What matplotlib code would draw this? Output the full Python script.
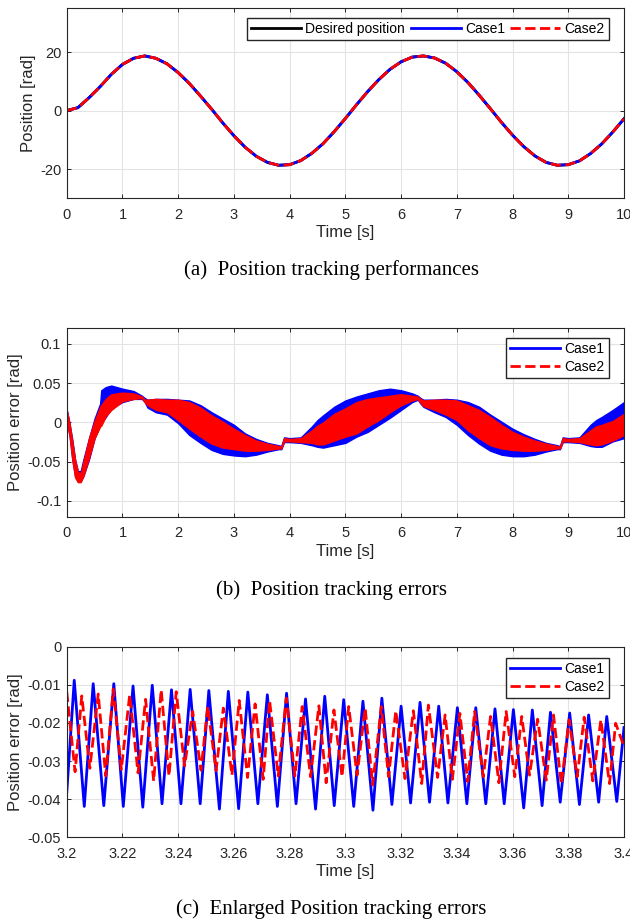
import numpy as np
import matplotlib.pyplot as plt
from matplotlib.lines import Line2D
from matplotlib.ticker import FormatStrFormatter

plt.rcParams['font.family'] = ['Liberation Sans', 'DejaVu Sans']
plt.rcParams['axes.unicode_minus'] = False

# (a) position tracking, read every 0.2 s
pos_t = [0.0, 0.2, 0.4, 0.6, 0.8, 1.0, 1.2, 1.4, 1.6, 1.8, 2.0, 2.2, 2.4, 2.6, 2.8,
         3.0, 3.2, 3.4, 3.6, 3.8, 4.0, 4.2, 4.4, 4.6, 4.8, 5.0, 5.2, 5.4, 5.6, 5.8,
         6.0, 6.2, 6.4, 6.6, 6.8, 7.0, 7.2, 7.4, 7.6, 7.8, 8.0, 8.2, 8.4, 8.6, 8.8,
         9.0, 9.2, 9.4, 9.6, 9.8, 10.0]
pos_desired = [0.0, 1.0, 4.4, 8.2, 12.4, 15.8, 17.9, 18.7, 17.9, 16.0, 13.0, 9.3, 5.0, 0.5, -4.2,
               -8.6, -12.5, -15.6, -17.7, -18.7, -18.5, -17.1, -14.6, -11.3, -7.2, -2.7, 2.0, 6.5, 10.6, 14.1,
               16.7, 18.3, 18.7, 18.0, 16.2, 13.3, 9.6, 5.3, 0.7, -4.0, -8.4, -12.3, -15.5, -17.7, -18.7,
               -18.5, -17.2, -14.7, -11.4, -7.3, -2.8]

# (b) tracking error envelopes (upper / lower edge of the oscillation band)
err_t = [0.0, 0.05, 0.1, 0.15, 0.2, 0.25, 0.3, 0.4, 0.5, 0.6, 0.62, 0.7, 0.8, 1.0, 1.2, 1.35,
         1.4, 1.45, 1.6, 1.8, 2.0, 2.2, 2.4, 2.6, 2.8, 3.0, 3.2, 3.4, 3.6, 3.8, 3.85, 3.9,
         4.0, 4.2, 4.4, 4.5, 4.6, 4.8, 5.0, 5.2, 5.4, 5.6, 5.8, 6.0, 6.2, 6.3, 6.35, 6.4,
         6.6, 6.8, 7.0, 7.2, 7.4, 7.6, 7.8, 8.0, 8.2, 8.4, 8.6, 8.8, 8.85, 8.9, 9.0, 9.2,
         9.4, 9.5, 9.6, 9.8, 10.0]
case1_hi = [0.016, -0.001, -0.022, -0.047, -0.062, -0.062, -0.047, -0.020, 0.005, 0.024, 0.041, 0.045,
            0.047, 0.043, 0.040, 0.034, 0.031, 0.029, 0.030, 0.030, 0.029, 0.028, 0.022, 0.013,
            0.005, -0.003, -0.014, -0.021, -0.026, -0.029, -0.030, -0.019, -0.020, -0.019, -0.005,
            0.003, 0.009, 0.020, 0.028, 0.033, 0.037, 0.041, 0.043, 0.041, 0.037, 0.034, 0.031,
            0.029, 0.029, 0.030, 0.029, 0.026, 0.020, 0.010, 0.001, -0.008, -0.015, -0.021, -0.026,
            -0.029, -0.030, -0.019, -0.020, -0.019, -0.003, 0.003, 0.007, 0.016, 0.026]
case1_lo = [0.0, -0.016, -0.047, -0.068, -0.075, -0.075, -0.068, -0.047, -0.020, -0.003, -0.001, 0.007,
            0.018, 0.026, 0.030, 0.030, 0.026, 0.019, 0.013, 0.010, -0.001, -0.016, -0.026, -0.035,
            -0.040, -0.042, -0.043, -0.041, -0.037, -0.034, -0.034, -0.025, -0.025, -0.026, -0.029,
            -0.031, -0.032, -0.029, -0.026, -0.018, -0.012, -0.003, 0.006, 0.016, 0.026, 0.029, 0.024,
            0.020, 0.013, 0.007, -0.003, -0.016, -0.027, -0.036, -0.041, -0.043, -0.043, -0.041, -0.037,
            -0.034, -0.034, -0.025, -0.025, -0.026, -0.030, -0.031, -0.031, -0.024, -0.020]
case2_hi = [0.016, -0.001, -0.024, -0.048, -0.063, -0.065, -0.050, -0.020, 0.002, 0.020, 0.022, 0.030,
            0.036, 0.038, 0.037, 0.033, 0.029, 0.029, 0.030, 0.029, 0.029, 0.026, 0.019, 0.009,
            0.001, -0.008, -0.016, -0.023, -0.027, -0.030, -0.031, -0.020, -0.021, -0.020, -0.010,
            -0.004, 0.000, 0.011, 0.018, 0.026, 0.030, 0.032, 0.034, 0.036, 0.034, 0.033, 0.030,
            0.028, 0.029, 0.029, 0.028, 0.022, 0.016, 0.007, -0.003, -0.012, -0.018, -0.023, -0.027,
            -0.030, -0.031, -0.020, -0.021, -0.020, -0.010, -0.005, -0.003, 0.002, 0.011]
case2_lo = [0.0, -0.016, -0.047, -0.070, -0.076, -0.076, -0.068, -0.045, -0.020, -0.005, -0.004, 0.008,
            0.016, 0.027, 0.030, 0.031, 0.026, 0.022, 0.016, 0.013, 0.003, -0.008, -0.018, -0.027,
            -0.032, -0.034, -0.036, -0.036, -0.035, -0.033, -0.033, -0.024, -0.024, -0.025, -0.026,
            -0.028, -0.028, -0.023, -0.018, -0.014, -0.005, 0.003, 0.013, 0.022, 0.028, 0.030, 0.025,
            0.021, 0.016, 0.010, 0.003, -0.010, -0.020, -0.029, -0.033, -0.035, -0.036, -0.036, -0.035,
            -0.033, -0.033, -0.024, -0.024, -0.025, -0.028, -0.029, -0.028, -0.023, -0.016]

# (c) enlarged error, peaks and troughs of each oscillation
zoom1_t = [3.2, 3.2027, 3.2063, 3.2095, 3.2133, 3.2169, 3.2203, 3.2238, 3.2273, 3.2307, 3.2342,
           3.2376, 3.2410, 3.2443, 3.2479, 3.2510, 3.2548, 3.2580, 3.2617, 3.2650, 3.2686, 3.2720,
           3.2756, 3.2789, 3.2823, 3.2857, 3.2893, 3.2926, 3.2960, 3.2994, 3.3030, 3.3063, 3.3099,
           3.3131, 3.3167, 3.3200, 3.3234, 3.3268, 3.3302, 3.3335, 3.3368, 3.3402, 3.3436, 3.3468,
           3.3504, 3.3537, 3.3570, 3.3603, 3.3640, 3.3671, 3.3706, 3.3736, 3.3771, 3.3805, 3.3840,
           3.3873, 3.3909, 3.3938, 3.3974, 3.4]
zoom1_e = [-0.0384, -0.0088, -0.0419, -0.0097, -0.0417, -0.0097, -0.0419, -0.0103, -0.0421, -0.0101,
           -0.0412, -0.0113, -0.0412, -0.0112, -0.0412, -0.0115, -0.0426, -0.0117, -0.0425, -0.0119,
           -0.0412, -0.0126, -0.0419, -0.0122, -0.0412, -0.0137, -0.0426, -0.0130, -0.0417, -0.0139,
           -0.0419, -0.0143, -0.0429, -0.0135, -0.0414, -0.0156, -0.0410, -0.0146, -0.0408, -0.0156,
           -0.0410, -0.0160, -0.0412, -0.0160, -0.0412, -0.0163, -0.0412, -0.0165, -0.0423, -0.0166,
           -0.0417, -0.0172, -0.0408, -0.0174, -0.0414, -0.0179, -0.0408, -0.0183, -0.0406, -0.0212]
zoom2_t = [3.2000, 3.2030, 3.2054, 3.2083, 3.2113, 3.2140, 3.2167, 3.2196, 3.2226, 3.2256, 3.2283,
           3.2312, 3.2339, 3.2367, 3.2393, 3.2423, 3.2452, 3.2482, 3.2506, 3.2536, 3.2562, 3.2593,
           3.2619, 3.2649, 3.2676, 3.2705, 3.2728, 3.2759, 3.2788, 3.2819, 3.2845, 3.2875, 3.2905,
           3.2931, 3.2959, 3.2988, 3.3012, 3.3042, 3.3071, 3.3098, 3.3129, 3.3155, 3.3181, 3.3214,
           3.3244, 3.3274, 3.3298, 3.3331, 3.3358, 3.3384, 3.3411, 3.3439, 3.3464, 3.3495, 3.3521,
           3.3551, 3.3577, 3.3608, 3.3633, 3.3661, 3.3690, 3.3721, 3.3747, 3.3775, 3.3803, 3.3832,
           3.3857, 3.3888, 3.3917, 3.3948, 3.3970, 3.4000]
zoom2_e = [-0.0118, -0.0328, -0.0129, -0.0319, -0.0124, -0.0339, -0.0111, -0.0322, -0.0126, -0.0331,
           -0.0138, -0.0352, -0.0113, -0.0339, -0.0118, -0.0313, -0.0170, -0.0324, -0.0157, -0.0325,
           -0.0161, -0.0337, -0.0141, -0.0343, -0.0150, -0.0348, -0.0141, -0.0339, -0.0135, -0.0339,
           -0.0157, -0.0341, -0.0155, -0.0357, -0.0166, -0.0341, -0.0157, -0.0337, -0.0161, -0.0363,
           -0.0157, -0.0341, -0.0168, -0.0346, -0.0168, -0.0359, -0.0153, -0.0343, -0.0179, -0.0348,
           -0.0175, -0.0354, -0.0170, -0.0341, -0.0183, -0.0357, -0.0170, -0.0341, -0.0183, -0.0337,
           -0.0190, -0.0350, -0.0179, -0.0361, -0.0192, -0.0341, -0.0185, -0.0352, -0.0192, -0.0359,
           -0.0201, -0.0262]

BLUE = '#0000ff'
RED = '#ff0000'
DARK = '#262626'


def style_axes(ax):
    ax.grid(True, color='#e3e3e3', linewidth=0.8)
    ax.set_axisbelow(True)
    ax.tick_params(direction='in', top=True, right=True, length=3, width=0.7,
                   labelsize=10.5, colors=DARK)
    ax.tick_params(axis='x', pad=7)
    ax.tick_params(axis='y', pad=4)
    for s in ax.spines.values():
        s.set_color(DARK)
        s.set_linewidth(0.8)
    ax.xaxis.set_major_formatter(FormatStrFormatter('%g'))
    ax.yaxis.set_major_formatter(FormatStrFormatter('%g'))
    ax.set_xlabel('Time [s]', fontsize=12, labelpad=2.5, color=DARK)


leg_kw = dict(loc='upper right', fontsize=10, fancybox=False, framealpha=1, edgecolor=DARK,
              handlelength=3.6, handletextpad=0.3, borderpad=0.3, borderaxespad=0)

fig = plt.figure(figsize=(6.3, 9.21), dpi=100)

# ---- (a)
ax1 = fig.add_axes([0.1059, 0.7847, 0.8846, 0.2063])
ax1.plot(pos_t, pos_desired, color='k', lw=2, label='Desired position')
ax1.plot(pos_t, pos_desired, color=BLUE, lw=2, label='Case1')
ax1.plot(pos_t, pos_desired, color=RED, lw=2, ls='--', label='Case2')
ax1.set_xlim(0, 10)
ax1.set_ylim(-30, 35)
ax1.set_xticks(range(11))
ax1.set_yticks([-20, 0, 20])
style_axes(ax1)
ax1.set_ylabel('Position [rad]', fontsize=12, labelpad=3, color=DARK)
ax1.legend(bbox_to_anchor=(0.973, 0.949), ncol=3, columnspacing=0.4, **leg_kw)

# ---- (b)
ax2 = fig.add_axes([0.1059, 0.4390, 0.8846, 0.2046])
ax2.fill_between(err_t, case1_lo, case1_hi, color=BLUE, lw=1, edgecolor=BLUE)
ax2.fill_between(err_t, case2_lo, case2_hi, color=RED, lw=1, edgecolor=RED)
ax2.set_xlim(0, 10)
ax2.set_ylim(-0.12, 0.12)
ax2.set_xticks(range(11))
ax2.set_yticks([-0.1, -0.05, 0, 0.05, 0.1])
style_axes(ax2)
ax2.set_ylabel('Position error [rad]', fontsize=12, labelpad=3, color=DARK)
handles = [Line2D([], [], color=BLUE, lw=2), Line2D([], [], color=RED, lw=2, ls='--')]
ax2.legend(handles, ['Case1', 'Case2'], bbox_to_anchor=(0.973, 0.9485), labelspacing=0.3, **leg_kw)

# ---- (c)
ax3 = fig.add_axes([0.1059, 0.0909, 0.8846, 0.2069])
ax3.plot(zoom1_t, zoom1_e, color=BLUE, lw=2, solid_joinstyle='round', label='Case1')
ax3.plot(zoom2_t, zoom2_e, color=RED, lw=2, ls='--', label='Case2')
ax3.set_xlim(3.2, 3.4)
ax3.set_ylim(-0.05, 0)
ax3.set_xticks(np.round(np.arange(3.2, 3.4001, 0.02), 2))
ax3.set_yticks([-0.05, -0.04, -0.03, -0.02, -0.01, 0])
style_axes(ax3)
ax3.set_ylabel('Position error [rad]', fontsize=12, labelpad=3, color=DARK)
ax3.legend(bbox_to_anchor=(0.973, 0.942), labelspacing=0.3, **leg_kw)

# captions
cap = dict(ha='center', va='center', fontsize=15, family=['Liberation Serif', 'DejaVu Serif'])
fig.text(0.526, 0.7068, '(a)  Position tracking performances', **cap)
fig.text(0.526, 0.3594, '(b)  Position tracking errors', **cap)
fig.text(0.526, 0.0130, '(c)  Enlarged Position tracking errors', **cap)

fig.savefig('out.png', dpi=100)
